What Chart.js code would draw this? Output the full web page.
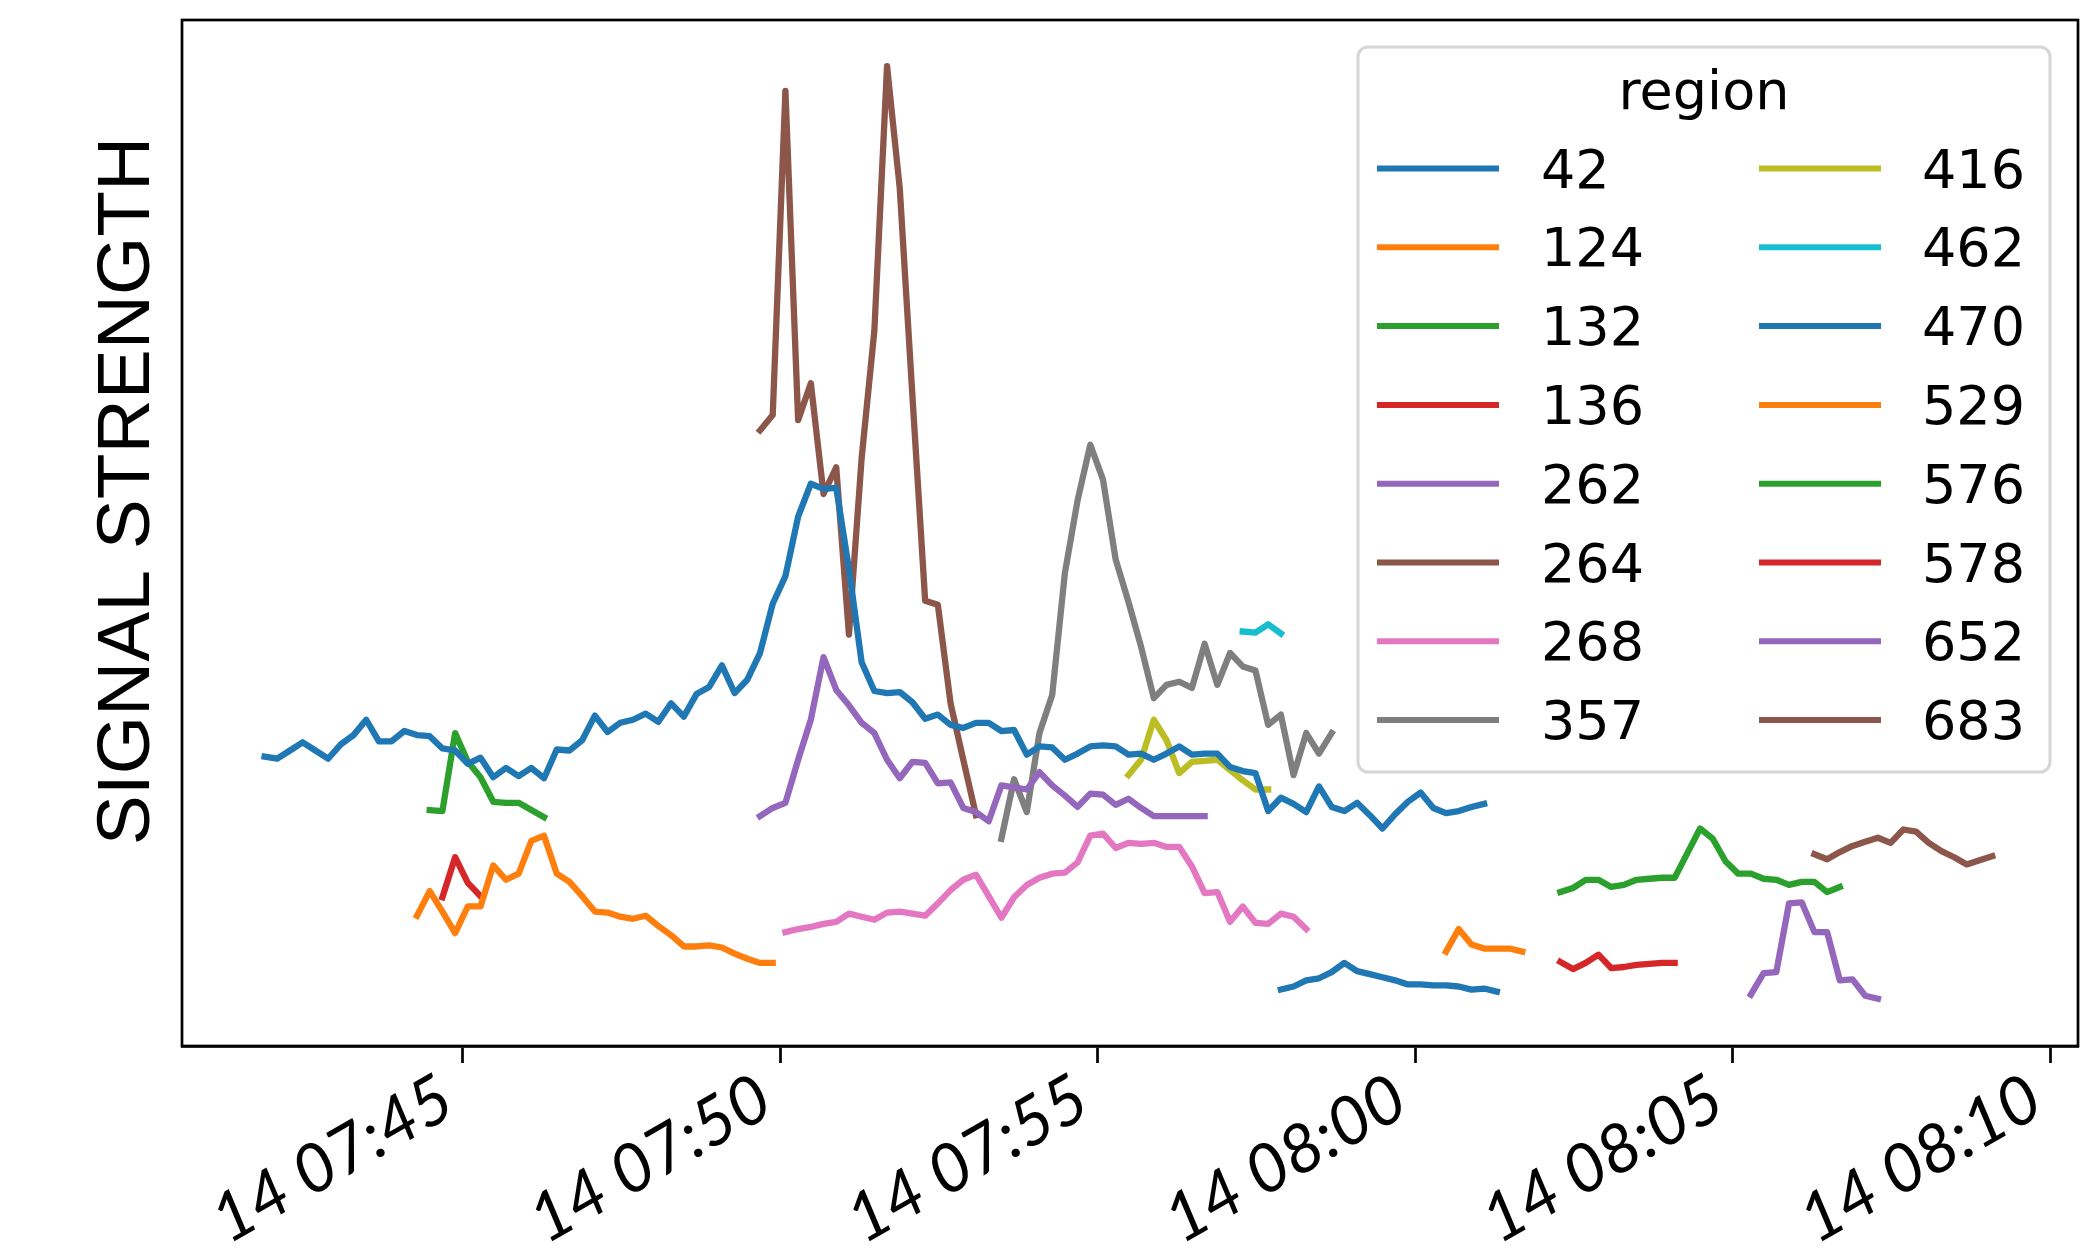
<!DOCTYPE html>
<html>
<head>
<meta charset="utf-8">
<title>Signal strength by region</title>
<script src="https://cdn.jsdelivr.net/npm/chart.js@4.4.1/dist/chart.umd.min.js"></script>
<style>
  html, body { margin: 0; padding: 0; background: #fff; }
  canvas { display: block; }
</style>
</head>
<body>
<canvas id="signalChart" width="2082" height="1251"></canvas>
<script>
// regions in legend order, first sample time of each one, samples every 12 s
const regions = ['42', '124', '132', '136', '262', '264', '268', '357',
                 '416', '462', '470', '529', '576', '578', '652', '683'];
const startTimes = ['07:41:53', '07:44:17', '07:44:29', '07:44:41', '07:49:41', '07:49:41', '07:50:05', '07:53:29',
                    '07:55:29', '07:57:17', '07:57:53', '08:00:29', '08:02:17', '08:02:17', '08:05:17', '08:06:17'];
const SAMPLE_SECONDS = 12;

const r42 = [28.2, 28.0, 28.8, 29.6, 28.8, 28.0, 29.4, 30.3, 31.8, 29.7,
  29.7, 30.7, 30.3, 30.2, 29.0, 28.8, 27.5, 28.1, 26.2, 27.1,
  26.3, 27.1, 26.1, 28.9, 28.8, 29.8, 32.2, 30.6, 31.5, 31.8,
  32.4, 31.6, 33.4, 32.1, 34.3, 35.0, 37.1, 34.4, 35.7, 38.3,
  43.1, 45.8, 51.6, 54.8, 54.3, 54.4, 46.5, 37.4, 34.6, 34.4,
  34.5, 33.5, 31.9, 32.3, 31.3, 31.0, 31.5, 31.5, 30.7, 30.8,
  28.4, 29.2, 29.1, 27.9, 28.5, 29.2, 29.3, 29.2, 28.4, 28.5,
  27.9, 28.5, 29.2, 28.4, 28.5, 28.5, 27.2, 26.8, 26.6, 22.9,
  24.2, 23.6, 22.8, 25.3, 23.3, 22.9, 23.7, 22.5, 21.2, 22.6,
  23.8, 24.7, 23.2, 22.7, 22.9, 23.3, 23.6];
const r124 = [12.7, 15.1, 13.1, 11.0, 13.6, 13.6, 17.6, 16.2, 16.8, 20.0,
  20.5, 16.8, 16.0, 14.6, 13.1, 13.0, 12.6, 12.4, 12.7, 11.7,
  10.8, 9.7, 9.7, 9.8, 9.6, 9.0, 8.5, 8.1, 8.1];
const r132 = [23.0, 22.9, 30.5, 27.7, 26.2, 23.8, 23.7, 23.7, 23.0, 22.3];
const r136 = [14.5, 18.4, 15.9, 14.6];
const r262 = [22.4, 23.2, 23.7, 27.9, 31.8, 37.9, 34.7, 33.2, 31.5, 30.5,
  27.9, 26.1, 27.7, 27.6, 25.6, 25.7, 23.2, 22.8, 21.9, 25.4,
  25.2, 25.0, 26.7, 25.4, 24.4, 23.3, 24.6, 24.5, 23.5, 24.1,
  23.2, 22.4, 22.4, 22.4, 22.4, 22.4];
const r264 = [60.0, 61.5, 93.1, 61.0, 64.6, 53.8, 56.4, 40.1, 57.3, 69.7,
  95.5, 83.6, 63.3, 43.4, 43.0, 33.4, 27.9, 22.5];
const r268 = [11.1, 11.4, 11.6, 11.9, 12.1, 12.9, 12.6, 12.3, 13.0, 13.1,
  12.9, 12.7, 13.9, 15.2, 16.2, 16.7, 14.6, 12.5, 14.5, 15.7,
  16.4, 16.8, 16.9, 17.9, 20.5, 20.7, 19.3, 19.8, 19.7, 19.8,
  19.4, 19.4, 17.5, 14.9, 15.0, 12.1, 13.6, 12.0, 11.9, 12.9,
  12.6, 11.4];
const r357 = [20.2, 26.0, 22.8, 30.5, 34.2, 46.1, 53.2, 58.6, 55.2, 47.4,
  43.3, 38.9, 33.9, 35.2, 35.5, 34.9, 39.2, 35.2, 38.3, 37.0,
  36.6, 31.3, 32.3, 26.4, 30.5, 28.5, 30.5];
const r416 = [26.4, 27.9, 31.8, 29.8, 26.6, 27.7, 27.8, 27.9, 26.9, 25.9, 25.0, 25.0];
const r462 = [40.4, 40.3, 41.1, 40.2];
const r470 = [5.5, 5.8, 6.4, 6.6, 7.2, 8.1, 7.3, 7.0, 6.7, 6.4,
  6.0, 6.0, 5.9, 5.9, 5.8, 5.5, 5.6, 5.3];
const r529 = [9.2, 11.4, 9.9, 9.5, 9.5, 9.5, 9.2];
const r576 = [15.0, 15.4, 16.2, 16.2, 15.5, 15.7, 16.2, 16.3, 16.4, 16.4,
  18.8, 21.2, 20.2, 18.0, 16.8, 16.8, 16.3, 16.2, 15.7, 16.0,
  16.0, 15.0, 15.5];
const r578 = [8.2, 7.5, 8.1, 8.9, 7.6, 7.7, 7.9, 8.0, 8.1, 8.1];
const r652 = [5.0, 7.1, 7.2, 13.9, 14.0, 11.1, 11.1, 6.4, 6.5, 4.9, 4.6];
const r683 = [18.7, 18.2, 18.9, 19.5, 19.9, 20.3, 19.8, 21.1, 20.9, 19.8,
  19.0, 18.4, 17.7, 18.1, 18.5];

const seriesValues = [r42, r124, r132, r136, r262, r264, r268, r357,
                      r416, r462, r470, r529, r576, r578, r652, r683];

const tickTimes = ['07:45', '07:50', '07:55', '08:00', '08:05', '08:10'];
const axisStart = '07:40:35';
const axisEnd = '08:10:26';
const DAY = '14';

const colors = ['#1f77b4', '#ff7f0e', '#2ca02c', '#d62728', '#9467bd', '#8c564b', '#e377c2', '#7f7f7f',
                '#bcbd22', '#17becf', '#1f77b4', '#ff7f0e', '#2ca02c', '#d62728', '#9467bd', '#8c564b'];

const toSeconds = (hms) => {
  const [h, m, s] = hms.split(':').map(Number);
  return h * 3600 + m * 60 + (s || 0);
};

const toLabel = (sec) => {
  const h = Math.floor(sec / 3600);
  const m = Math.round((sec - h * 3600) / 60);
  return DAY + ' ' + String(h).padStart(2, '0') + ':' + String(m).padStart(2, '0');
};

const datasets = regions.map((name, i) => {
  const t0 = toSeconds(startTimes[i]);
  return {
    label: name,
    data: seriesValues[i].map((v, k) => ({ x: t0 + k * SAMPLE_SECONDS, y: v })),
    borderColor: colors[i],
    backgroundColor: colors[i],
    borderWidth: 6.3,
    borderJoinStyle: 'round',
    borderCapStyle: 'square',
    pointRadius: 0,
    tension: 0,
    fill: false
  };
});

// black box round the plot, like the axes spines
const frame = {
  id: 'frame',
  afterDatasetsDraw(chart) {
    const { ctx, chartArea: a } = chart;
    ctx.save();
    ctx.strokeStyle = '#000';
    ctx.lineWidth = 2.7;
    ctx.strokeRect(a.left, a.top, a.right - a.left, a.bottom - a.top);
    ctx.restore();
  }
};

// rotated time labels, right end hung under each tick
const tickLabels = {
  id: 'tickLabels',
  afterDraw(chart) {
    const ctx = chart.ctx;
    const xs = chart.scales.x;
    ctx.save();
    ctx.fillStyle = '#000';
    ctx.font = 'italic 67px Lato, sans-serif';
    ctx.textAlign = 'right';
    ctx.textBaseline = 'alphabetic';
    xs.ticks.forEach(t => {
      ctx.save();
      ctx.translate(xs.getPixelForValue(t.value) - 4, xs.top + 66);
      ctx.rotate(-Math.PI / 6);
      ctx.fillText(toLabel(t.value), 0, 0);
      ctx.restore();
    });
    ctx.restore();
  }
};

const yLabel = {
  id: 'yLabel',
  afterDraw(chart) {
    const ctx = chart.ctx;
    ctx.save();
    ctx.translate(128, 491);
    ctx.rotate(-Math.PI / 2);
    ctx.fillStyle = '#000';
    ctx.font = '75px "Liberation Sans", Arial, sans-serif';
    ctx.textAlign = 'center';
    ctx.textBaseline = 'middle';
    ctx.fillText('SIGNAL STRENGTH', 0, 0);
    ctx.restore();
  }
};

// two column legend with a title, drawn over the lines
const legendBox = {
  id: 'legendBox',
  afterDraw(chart) {
    const ctx = chart.ctx;
    const sets = chart.data.datasets;
    const x1 = 1358, y1 = 47, x2 = 2050, y2 = 772, r = 10;
    ctx.save();
    ctx.beginPath();
    ctx.moveTo(x1 + r, y1);
    ctx.arcTo(x2, y1, x2, y2, r);
    ctx.arcTo(x2, y2, x1, y2, r);
    ctx.arcTo(x1, y2, x1, y1, r);
    ctx.arcTo(x1, y1, x2, y1, r);
    ctx.closePath();
    ctx.fillStyle = 'rgba(255,255,255,0.8)';
    ctx.fill();
    ctx.strokeStyle = '#d6d6d6';
    ctx.lineWidth = 3;
    ctx.stroke();

    ctx.fillStyle = '#000';
    ctx.font = '54px "DejaVu Sans", sans-serif';
    ctx.textAlign = 'center';
    ctx.textBaseline = 'alphabetic';
    ctx.fillText('region', (x1 + x2) / 2, 109);

    ctx.textAlign = 'left';
    const rows = Math.ceil(sets.length / 2);
    sets.forEach((ds, i) => {
      const col = Math.floor(i / rows);
      const row = i % rows;
      const cy = 168.5 + row * 78.8;
      const lx = col === 0 ? 1377 : 1759;
      const tx = col === 0 ? 1541 : 1922;
      ctx.strokeStyle = ds.borderColor;
      ctx.lineWidth = 6;
      ctx.lineCap = 'butt';
      ctx.beginPath();
      ctx.moveTo(lx, cy);
      ctx.lineTo(lx + 122, cy);
      ctx.stroke();
      ctx.fillStyle = '#000';
      ctx.fillText(ds.label, tx, cy + 19);
    });
    ctx.restore();
  }
};

const ctx = document.getElementById('signalChart').getContext('2d');

const signalChart = new Chart(ctx, {
  type: 'line',
  data: { datasets },
  options: {
    responsive: false,
    animation: false,
    devicePixelRatio: 1,
    layout: { padding: { left: 182, right: 4, top: 20, bottom: 0 } },
    plugins: {
      legend: { display: false },
      tooltip: { enabled: false },
      title: { display: false }
    },
    scales: {
      x: {
        type: 'linear',
        min: toSeconds(axisStart),
        max: toSeconds(axisEnd),
        afterBuildTicks: (axis) => {
          axis.ticks = tickTimes.map(t => ({ value: toSeconds(t) }));
        },
        afterFit: (axis) => {
          axis.height = 205;
          axis.paddingLeft = 0;
          axis.paddingRight = 0;
        },
        border: { display: true, color: '#000', width: 2.7 },
        grid: {
          display: true,
          drawOnChartArea: false,
          drawTicks: true,
          tickLength: 17,
          tickWidth: 2.7,
          tickColor: '#000'
        },
        ticks: { display: false }
      },
      y: {
        display: false,
        min: 0,
        max: 100
      }
    }
  },
  plugins: [frame, tickLabels, yLabel, legendBox]
});
</script>
</body>
</html>
